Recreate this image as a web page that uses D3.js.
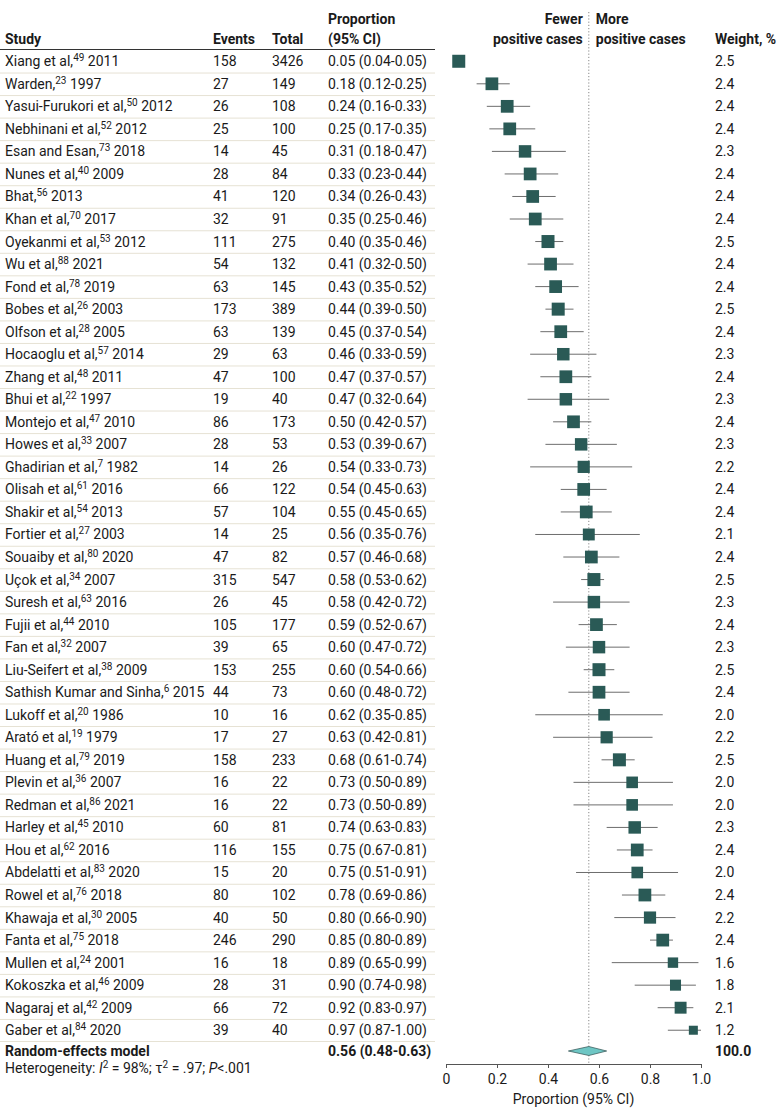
<!DOCTYPE html>
<html>
<head>
<meta charset="utf-8">
<script src="https://cdn.jsdelivr.net/npm/d3@7"></script>
<style>
  body { margin: 0; background: #fff; }
  svg text { font-family: Roboto, "Noto Sans", sans-serif; fill: #1a1a1a; }
</style>
</head>
<body>
<svg id="chart"></svg>
<script>
// study rows
const studies = ["Xiang et al", "Warden", "Yasui-Furukori et al", "Nebhinani et al", "Esan and Esan",
  "Nunes et al", "Bhat", "Khan et al", "Oyekanmi et al", "Wu et al", "Fond et al", "Bobes et al",
  "Olfson et al", "Hocaoglu et al", "Zhang et al", "Bhui et al", "Montejo et al", "Howes et al",
  "Ghadirian et al", "Olisah et al", "Shakir et al", "Fortier et al", "Souaiby et al", "Uçok et al",
  "Suresh et al", "Fujii et al", "Fan et al", "Liu-Seifert et al", "Sathish Kumar and Sinha",
  "Lukoff et al", "Arató et al", "Huang et al", "Plevin et al", "Redman et al", "Harley et al",
  "Hou et al", "Abdelatti et al", "Rowel et al", "Khawaja et al", "Fanta et al", "Mullen et al",
  "Kokoszka et al", "Nagaraj et al", "Gaber et al"];
const refs = [49, 23, 50, 52, 73, 40, 56, 70, 53, 88, 78, 26, 28, 57, 48, 22, 47, 33, 7, 61, 54, 27, 80,
  34, 63, 44, 32, 38, 6, 20, 19, 79, 36, 86, 45, 62, 83, 76, 30, 75, 24, 46, 42, 84];
const years = [2011, 1997, 2012, 2012, 2018, 2009, 2013, 2017, 2012, 2021, 2019, 2003, 2005, 2014, 2011,
  1997, 2010, 2007, 1982, 2016, 2013, 2003, 2020, 2007, 2016, 2010, 2007, 2009, 2015, 1986, 1979, 2019,
  2007, 2021, 2010, 2016, 2020, 2018, 2005, 2018, 2001, 2009, 2009, 2020];
const events = [158, 27, 26, 25, 14, 28, 41, 32, 111, 54, 63, 173, 63, 29, 47, 19, 86, 28, 14, 66, 57, 14,
  47, 315, 26, 105, 39, 153, 44, 10, 17, 158, 16, 16, 60, 116, 15, 80, 40, 246, 16, 28, 66, 39];
const totals = [3426, 149, 108, 100, 45, 84, 120, 91, 275, 132, 145, 389, 139, 63, 100, 40, 173, 53, 26,
  122, 104, 25, 82, 547, 45, 177, 65, 255, 73, 16, 27, 233, 22, 22, 81, 155, 20, 102, 50, 290, 18, 31, 72, 40];
const props = [0.05, 0.18, 0.24, 0.25, 0.31, 0.33, 0.34, 0.35, 0.40, 0.41, 0.43, 0.44, 0.45, 0.46, 0.47,
  0.47, 0.50, 0.53, 0.54, 0.54, 0.55, 0.56, 0.57, 0.58, 0.58, 0.59, 0.60, 0.60, 0.60, 0.62, 0.63, 0.68,
  0.73, 0.73, 0.74, 0.75, 0.75, 0.78, 0.80, 0.85, 0.89, 0.90, 0.92, 0.97];
const lower = [0.04, 0.12, 0.16, 0.17, 0.18, 0.23, 0.26, 0.25, 0.35, 0.32, 0.35, 0.39, 0.37, 0.33, 0.37,
  0.32, 0.42, 0.39, 0.33, 0.45, 0.45, 0.35, 0.46, 0.53, 0.42, 0.52, 0.47, 0.54, 0.48, 0.35, 0.42, 0.61,
  0.50, 0.50, 0.63, 0.67, 0.51, 0.69, 0.66, 0.80, 0.65, 0.74, 0.83, 0.87];
const upper = [0.05, 0.25, 0.33, 0.35, 0.47, 0.44, 0.43, 0.46, 0.46, 0.50, 0.52, 0.50, 0.54, 0.59, 0.57,
  0.64, 0.57, 0.67, 0.73, 0.63, 0.65, 0.76, 0.68, 0.62, 0.72, 0.67, 0.72, 0.66, 0.72, 0.85, 0.81, 0.74,
  0.89, 0.89, 0.83, 0.81, 0.91, 0.86, 0.90, 0.89, 0.99, 0.98, 0.97, 1.00];
const weights = [2.5, 2.4, 2.4, 2.4, 2.3, 2.4, 2.4, 2.4, 2.5, 2.4, 2.4, 2.5, 2.4, 2.3, 2.4, 2.3, 2.4, 2.3,
  2.2, 2.4, 2.4, 2.1, 2.4, 2.5, 2.3, 2.4, 2.3, 2.5, 2.4, 2.0, 2.2, 2.5, 2.0, 2.0, 2.3, 2.4, 2.0, 2.4, 2.2,
  2.4, 1.6, 1.8, 2.1, 1.2];

// pooled estimate
const pooled = { est: 0.56, lo: 0.48, hi: 0.63, weight: "100.0" };
const axisTicks = [0, 0.2, 0.4, 0.6, 0.8, 1.0];

const width = 780, height = 1119;
const svg = d3.select("#chart").attr("width", width).attr("height", height);

const rows = studies.map((s, i) => ({
  name: s, ref: refs[i], year: years[i], ev: events[i], tot: totals[i],
  p: props[i], lo: lower[i], hi: upper[i], w: weights[i]
}));

const x = d3.scaleLinear().domain([0, 1]).range([446, 701]);
const y = d3.scaleBand().domain(d3.range(rows.length)).range([50, 1041.5]);
const yc = i => y(i) + y.bandwidth() / 2;
const side = d3.scaleSqrt().domain([0, 2.5]).range([0, 13]);

const col = { study: 5, events: 213, total: 272, prop: 328, weight: 715 };
const fs = 14, sup = 10;

// header
const hdr = svg.append("g").attr("font-size", fs).attr("font-weight", "bold");
hdr.append("text").attr("x", col.study).attr("y", 44).text("Study");
hdr.append("text").attr("x", col.events).attr("y", 44).text("Events");
hdr.append("text").attr("x", col.total).attr("y", 44).text("Total");
hdr.append("text").attr("x", col.prop).attr("y", 24).text("Proportion");
hdr.append("text").attr("x", col.prop).attr("y", 44).text("(95% CI)");
hdr.append("text").attr("x", x(pooled.est) - 6).attr("y", 24).attr("text-anchor", "end").text("Fewer");
hdr.append("text").attr("x", x(pooled.est) - 6).attr("y", 44).attr("text-anchor", "end").text("positive cases");
hdr.append("text").attr("x", x(pooled.est) + 7).attr("y", 24).text("More");
hdr.append("text").attr("x", x(pooled.est) + 7).attr("y", 44).text("positive cases");
hdr.append("text").attr("x", col.weight).attr("y", 44).text("Weight, %");

svg.append("line").attr("x1", 0).attr("x2", 435).attr("y1", 49.5).attr("y2", 49.5)
  .attr("stroke", "#333").attr("stroke-width", 1.2);

// row separators
svg.append("g").selectAll("line").data(d3.range(1, rows.length + 1)).join("line")
  .attr("x1", 0).attr("x2", 435)
  .attr("y1", i => y(i) !== undefined ? y(i) + 0.5 : 1041.5)
  .attr("y2", i => y(i) !== undefined ? y(i) + 0.5 : 1041.5)
  .attr("stroke", "#e6e2d4").attr("stroke-width", 1);

// reference line at pooled estimate
svg.append("line").attr("x1", x(pooled.est)).attr("x2", x(pooled.est))
  .attr("y1", 12).attr("y2", 1063)
  .attr("stroke", "#888").attr("stroke-dasharray", "1.2,2").attr("stroke-width", 1);

// table text
const rg = svg.append("g").attr("font-size", fs).selectAll("g").data(rows).join("g")
  .attr("transform", (d, i) => `translate(0,${yc(i) + 5})`);

const st = rg.append("text").attr("x", col.study);
st.append("tspan").text(d => d.name + ",");
st.append("tspan").attr("font-size", sup).attr("dy", -5).text(d => d.ref);
st.append("tspan").attr("dy", 5).text(d => " " + d.year);

rg.append("text").attr("x", col.events).text(d => d.ev);
rg.append("text").attr("x", col.total).text(d => d.tot);
rg.append("text").attr("x", col.prop)
  .text(d => `${d.p.toFixed(2)} (${d.lo.toFixed(2)}-${d.hi.toFixed(2)})`);
rg.append("text").attr("x", col.weight).text(d => d.w.toFixed(1));

// CI whiskers and squares
const marks = svg.append("g");
marks.selectAll("line").data(rows).join("line")
  .attr("x1", d => x(d.lo)).attr("x2", d => x(d.hi))
  .attr("y1", (d, i) => yc(i)).attr("y2", (d, i) => yc(i))
  .attr("stroke", "#6d6d6d").attr("stroke-width", 1);
marks.selectAll("rect").data(rows).join("rect")
  .attr("x", d => x(d.p) - side(d.w) / 2)
  .attr("y", (d, i) => yc(i) - side(d.w) / 2)
  .attr("width", d => side(d.w)).attr("height", d => side(d.w))
  .attr("fill", "#2a5a56");

// pooled row
const py = 1051;
svg.append("text").attr("x", col.study).attr("y", py + 5).attr("font-size", fs)
  .attr("font-weight", "bold").text("Random-effects model");
svg.append("text").attr("x", col.prop).attr("y", py + 5).attr("font-size", fs)
  .attr("font-weight", "bold")
  .text(`${pooled.est.toFixed(2)} (${pooled.lo.toFixed(2)}-${pooled.hi.toFixed(2)})`);
svg.append("text").attr("x", col.weight).attr("y", py + 5).attr("font-size", fs)
  .attr("font-weight", "bold").text(pooled.weight);
svg.append("path")
  .attr("d", `M${x(pooled.lo)},${py} L${x(pooled.est)},${py - 4.5} L${x(pooled.hi)},${py} L${x(pooled.est)},${py + 4.5} Z`)
  .attr("fill", "#6ec6c4").attr("stroke", "#2f4f4f").attr("stroke-width", 0.7);

const het = svg.append("text").attr("x", col.study).attr("y", 1073).attr("font-size", fs);
het.append("tspan").text("Heterogeneity: ");
het.append("tspan").attr("font-style", "italic").text("I");
het.append("tspan").attr("font-size", sup).attr("dy", -5).text("2");
het.append("tspan").attr("dy", 5).text(" = 98%; τ");
het.append("tspan").attr("font-size", sup).attr("dy", -5).text("2");
het.append("tspan").attr("dy", 5).text(" = .97; ");
het.append("tspan").attr("font-style", "italic").text("P");
het.append("tspan").text("<.001");

// axis
const ax = svg.append("g").attr("transform", "translate(0,1064)")
  .call(d3.axisBottom(x).tickValues(axisTicks).tickSize(4).tickPadding(6)
    .tickFormat(d => d === 0 ? "0" : d3.format(".1f")(d)));
ax.select(".domain").attr("stroke", "#555");
ax.selectAll(".tick line").attr("stroke", "#555");
ax.selectAll(".tick text").attr("font-size", fs).attr("fill", "#1a1a1a")
  .attr("font-family", "Roboto, 'Noto Sans', sans-serif");
svg.append("text").attr("x", x(0.5)).attr("y", 1104).attr("text-anchor", "middle")
  .attr("font-size", fs).text("Proportion (95% CI)");
</script>
</body>
</html>
